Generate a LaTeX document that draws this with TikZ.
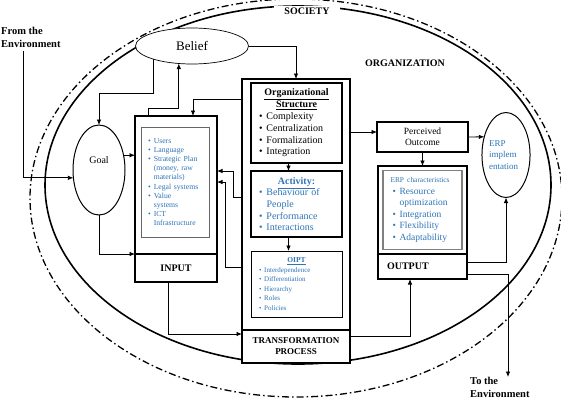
\documentclass[tikz,border=0pt]{standalone}
\usepackage{fontspec}
\setmainfont{Liberation Serif}
\usetikzlibrary{shapes.geometric, positioning, arrows.meta, calc}

\definecolor{listblue}{RGB}{46,117,182}
\newcommand{\bitem}[1]{\makebox[0.75em][l]{\textbullet}#1}
\newcommand{\bcont}[1]{\hspace*{0.75em}#1}

\begin{document}
\begin{tikzpicture}[
    x=1pt,
    y=-1pt,
    >={Latex[length=5.5pt, width=4.5pt]},
    conn/.style={->, line width=0.8pt},
    heavybox/.style={
        draw,
        line width=1.4pt,
        fill=white,
        inner sep=0pt,
        outer sep=0pt,
    },
    lightbox/.style={
        draw,
        line width=0.9pt,
        fill=white,
        inner sep=0pt,
        outer sep=0pt,
        align=left,
    },
    oval/.style={
        ellipse,
        draw,
        fill=white,
        inner sep=0pt,
        outer sep=0pt,
    },
    caps/.style={font=\bfseries\fontsize{10}{12}\selectfont},
]

\useasboundingbox (0,0) rectangle (561,407);

% --- Society and organization ---
\draw[line width=1.3pt, dash pattern=on 7pt off 3pt on 1.5pt off 3pt]
    (296,198) ellipse [x radius=266pt, y radius=199pt];
\draw[line width=1.6pt] (298,185) ellipse [x radius=253pt, y radius=179pt];
\node[caps, fill=white, inner xsep=10pt, inner ysep=2pt] (society) at (307,11) {SOCIETY};
\node[caps] (organization) at (405,63) {ORGANIZATION};

% --- Environment ---
\node[font=\bfseries\fontsize{10.5}{13}\selectfont, align=left, anchor=north west, inner sep=0pt]
    (fromenv) at (1,27) {From the\\Environment};
\node[font=\bfseries\fontsize{10.5}{13}\selectfont, align=left, anchor=north west, inner sep=0pt]
    (toenv) at (470,377) {To the\\Environment};

% --- Belief and goal ---
\node[oval, line width=0.7pt, minimum width=113pt, minimum height=36pt,
      font=\fontsize{13}{15}\selectfont] (belief) at (192,46) {Belief};
\node[oval, line width=1pt, minimum width=52pt, minimum height=90pt,
      label={[font=\fontsize{10}{12}\selectfont, yshift=10pt]center:Goal}] (goal) at (99,170) {};

% --- Input ---
\node[heavybox, minimum width=82pt, minimum height=138pt] (inbox) at (176,185) {};
\node[heavybox, caps, minimum width=82pt, minimum height=28pt, below=0pt of inbox] (inlabel) {INPUT};
\node[lightbox, draw=gray!80!black, line width=0.7pt, text=listblue, minimum width=68pt,
      minimum height=110pt, text width=54pt, font=\fontsize{7.7}{9.1}\selectfont]
      (inlist) at (175,182) {
    \bitem{Users}\\
    \bitem{Language}\\
    \bitem{Strategic Plan}\\
    \bcont{(money, raw}\\
    \bcont{materials)}\\
    \bitem{Legal systems}\\
    \bitem{Value}\\
    \bcont{systems}\\
    \bitem{ICT}\\
    \bcont{Infrastructure}
};

% --- Transformation process ---
\node[heavybox, minimum width=108pt, minimum height=251pt] (transf) at (296,204.5) {};
\node[heavybox, font=\bfseries\fontsize{9}{11}\selectfont, align=center, minimum width=108pt,
      minimum height=33pt, below=0pt of transf] (translabel) {TRANSFORMATION\\PROCESS};
\node[lightbox, line width=1.1pt, minimum width=91pt, minimum height=80pt, text width=75pt,
      font=\fontsize{10}{11.8}\selectfont] (orgstruct) at (296.5,123) {
    \makebox[75pt][c]{\bfseries\underline{Organizational}}\\
    \makebox[75pt][c]{\bfseries\underline{Structure}}\\
    \bitem{Complexity}\\
    \bitem{Centralization}\\
    \bitem{Formalization}\\
    \bitem{Integration}
};
\node[lightbox, line width=1.1pt, text=listblue, minimum width=91pt, minimum height=66pt,
      text width=75pt, font=\fontsize{10}{11.6}\selectfont, below=8pt of orgstruct] (activity) {
    \makebox[75pt][c]{\bfseries\underline{Activity:}}\\
    \bitem{Behaviour of}\\
    \bcont{People}\\
    \bitem{Performance}\\
    \bitem{Interactions}
};
\node[lightbox, line width=0.8pt, text=listblue, minimum width=91pt, minimum height=66pt,
      text width=75pt, font=\fontsize{7}{9.6}\selectfont, below=14pt of activity] (oipt) {
    \makebox[75pt][c]{\fontsize{7.5}{9.6}\selectfont\bfseries\underline{OIPT}}\\
    \bitem{Interdependence}\\
    \bitem{Differentiation}\\
    \bitem{Hierarchy}\\
    \bitem{Roles}\\
    \bitem{Policies}
};

% --- Output ---
\node[heavybox, minimum width=91pt, minimum height=30pt, align=center,
      font=\fontsize{9.5}{10.7}\selectfont] (perceived) at (422.5,137) {Perceived\\Outcome};
\node[heavybox, minimum width=89pt, minimum height=88pt, below=14pt of perceived] (outbox) {};
\node[heavybox, caps, minimum width=89pt, minimum height=25pt, text width=71pt, inner xsep=9pt,
      align=left, below=0pt of outbox] (outlabel) {OUTPUT};
\node[lightbox, draw=gray, line width=1.2pt, text=listblue, minimum width=79pt, minimum height=79pt,
      text width=64pt, font=\fontsize{9.5}{11.5}\selectfont] (erpchar) at (outbox.center) {
    {\fontsize{7.4}{11.5}\selectfont ERP characteristics}\\
    \hspace*{2pt}\bitem{Resource}\\
    \hspace*{2pt}\bcont{optimization}\\
    \hspace*{2pt}\bitem{Integration}\\
    \hspace*{2pt}\bitem{Flexibility}\\
    \hspace*{2pt}\bitem{Adaptability}
};
\node[oval, line width=1pt, minimum width=48pt, minimum height=85pt, text=listblue, align=left,
      font=\fontsize{9}{11.5}\selectfont] (erp) at (506,155) {ERP\\implem\\entation\hspace*{5pt}};

% --- Connectors ---
\draw[conn] ($(fromenv.south west)+(22,3)$) |- (goal.197);
\draw[conn] (belief.199) |- ($(goal.north)+(0,-32)$) -- (goal.north);
\draw[conn] ($(inbox.north west)+(13,0)$) -- ++(0,-8) -| (belief.233);
\draw[conn] (goal.31) -- (goal.31 -| inbox.west);
\draw[conn] (goal.south) |- (inbox.south west);
\draw[conn] (belief.east) -| (transf.north);
\draw[conn] ($(transf.north west)+(0,20)$) -| ($(inbox.north west)+(58,0)$);
\draw[conn] ($(transf.north west)+(0,118)$) -- ++(-9,0) |- ($(inbox.north east)+(0,55)$);
\draw[conn] ($(transf.north west)+(0,188)$) -- ++(-17,0) |- ($(inbox.north east)+(0,66)$);
\draw[conn] ($(inlabel.south west)+(33,0)$) |- ($(translabel.south west)+(0,-29)$);
\draw[conn] ($(orgstruct.south)+(-8,0)$) -- ($(activity.north)+(-8,0)$);
\draw[conn] ($(activity.south)+(-8,0)$) -- ($(oipt.north)+(-8,0)$);
\draw[conn] ($(transf.north east)+(0,53)$) -- ($(perceived.north west)+(0,10)$);
\draw[conn] (perceived.east) -- (erp.140);
\draw[conn] (perceived.south) -- (outbox.north);
\draw[conn] ($(outlabel.north east)+(0,8)$) -| (erp.south);
\draw[conn] ($(outlabel.south east)+(0,-5)$) -| ($(toenv.north west)+(38,0)$);
\draw[conn] ($(translabel.north east)+(0,6)$) -| ($(outlabel.south west)+(32,0)$);

\end{tikzpicture}
\end{document}
